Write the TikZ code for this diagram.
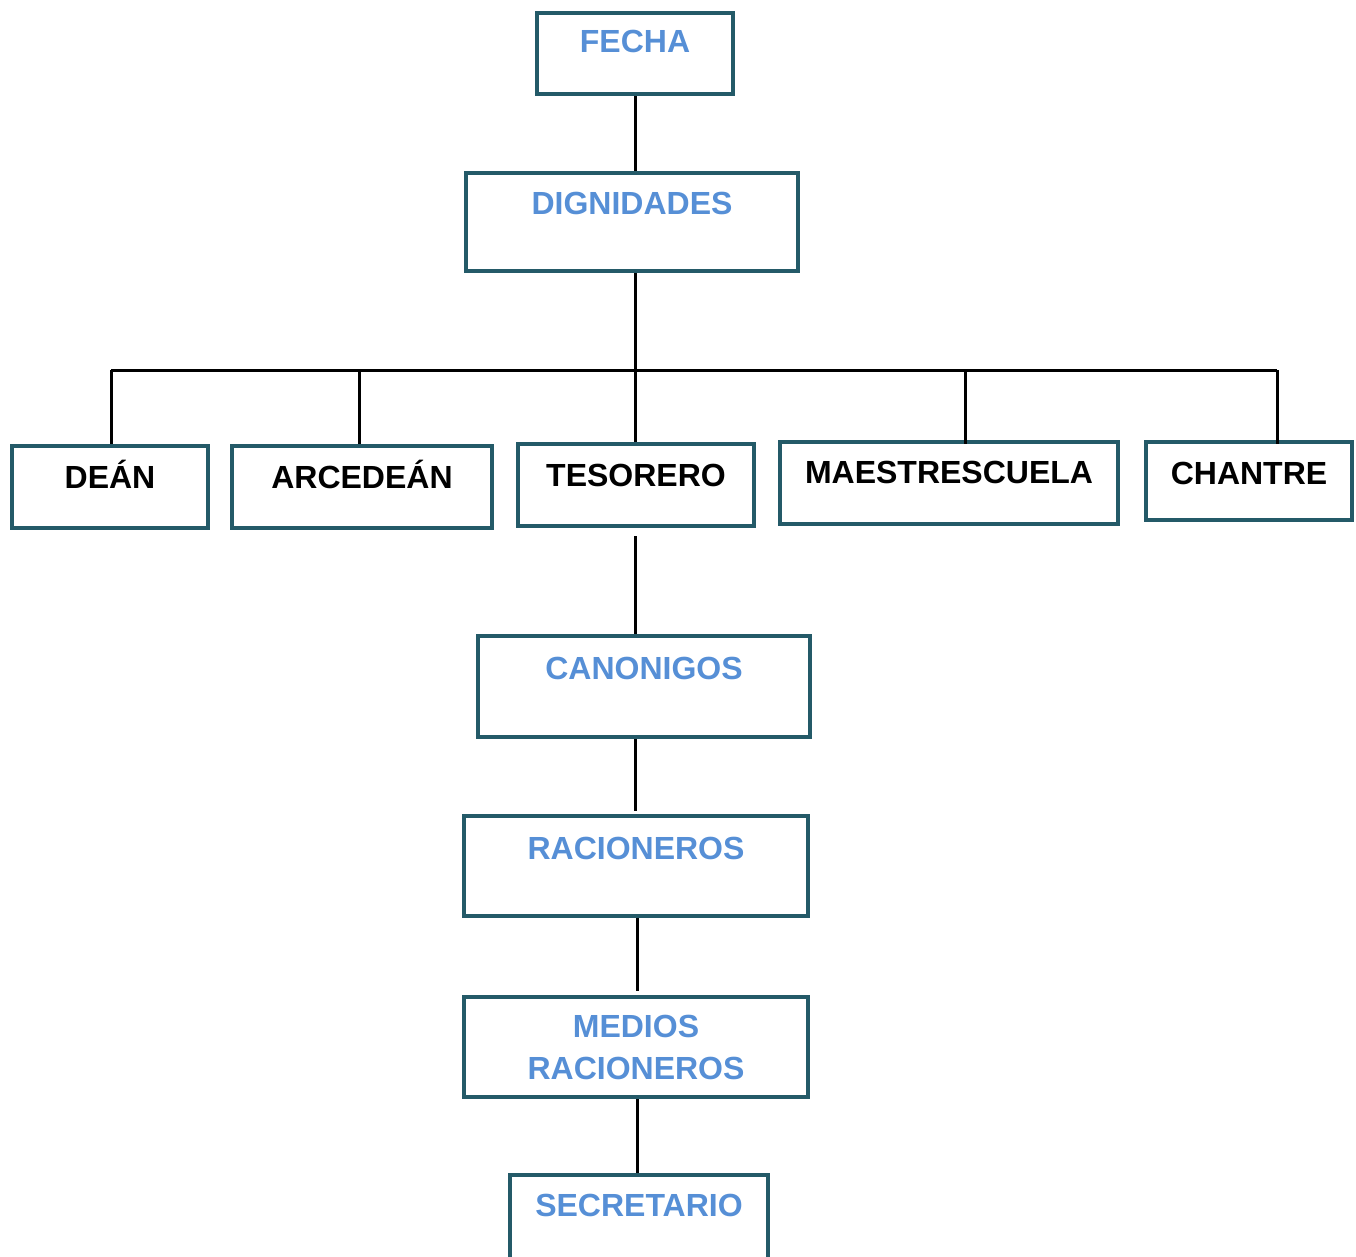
\documentclass[tikz,border=0pt]{standalone}
\usepackage{fontspec}
\setmainfont{Liberation Sans}
\definecolor{boxedge}{HTML}{245A68}
\definecolor{bluetext}{HTML}{568FD6}
\begin{document}
\begin{tikzpicture}[x=1pt,y=-1pt,
  orgbox/.style={draw=boxedge, line width=4.5pt, rectangle, inner xsep=0pt, inner ysep=0pt,
    font=\fontsize{32}{42}\selectfont\bfseries, text height=#1},
  bluebox/.style={orgbox=#1, text=bluetext},
  blackbox/.style={orgbox=#1, text=black},
  link/.style={draw=black, line width=3pt}]
\useasboundingbox (0,0) rectangle (1356,1257);

% boxes
\node[bluebox=40pt, text depth=41pt, minimum width=196pt] (fecha) at (635,53.5) {FECHA};
\node[bluebox=42pt, text depth=56pt, minimum width=332pt] (dign) at (632,222) {DIGNIDADES};

\node[blackbox=42pt, text depth=40pt, minimum width=196pt] (dean) at (110,487) {DEÁN};
\node[blackbox=42pt, text depth=40pt, minimum width=260pt] (arce) at (362,487) {ARCEDEÁN};
\node[blackbox=42pt, text depth=40pt, minimum width=236pt] (teso) at (636,485) {TESORERO};
\node[blackbox=41pt, text depth=41pt, minimum width=338pt] (maes) at (949,483) {MAESTRESCUELA};
\node[blackbox=42pt, text depth=36pt, minimum width=206pt] (chan) at (1249,481) {CHANTRE};

\node[bluebox=43pt, text depth=58pt, minimum width=332pt] (cano) at (644,686.5) {CANONIGOS};
\node[bluebox=43pt, text depth=57pt, minimum width=344pt] (raci) at (636,866) {RACIONEROS};
\node[draw=boxedge, line width=4.5pt, rectangle, inner sep=0pt, text=bluetext,
  font=\fontsize{32}{42}\selectfont\bfseries, align=center,
  minimum width=344pt, minimum height=100pt] (medi) at (636,1047) {MEDIOS\\RACIONEROS};
\node[bluebox=41pt, text depth=43pt, minimum width=258pt] (secr) at (639,1217) {SECRETARIO};

% connector guide coordinates
\coordinate (bus) at (635,370);
\coordinate (busL) at (111,370);
\coordinate (busA) at (359,370);
\coordinate (busM) at (965,370);
\coordinate (busR) at (1277,370);
\coordinate (colA) at (635,536);
\coordinate (colB) at (635,811);
\coordinate (colC) at (637,991);
\coordinate (colD) at (637,0);

\draw[link] (fecha.south) -- (fecha.south |- dign.north);
\draw[link] (bus |- dign.south) -- (bus);
\draw[link] (busL) -- (busR);
\draw[link] (busL) -- (busL |- dean.north);
\draw[link] (busA) -- (busA |- arce.north);
\draw[link] (bus) -- (bus |- teso.north);
\draw[link] (busM) -- ([yshift=-4pt]busM |- maes.north);
\draw[link] (busR) -- ([yshift=-4pt]busR |- chan.north);
\draw[link] (colA) -- (colA |- cano.north);
\draw[link] (colB |- cano.south) -- (colB);
\draw[link] (colC |- raci.south) -- (colC);
\draw[link] (colD |- medi.south) -- (colD |- secr.north);
\end{tikzpicture}
\end{document}
